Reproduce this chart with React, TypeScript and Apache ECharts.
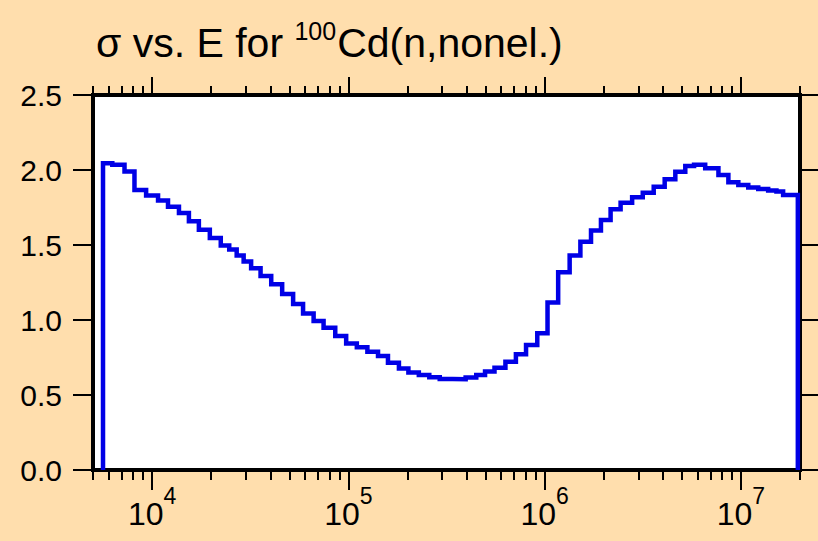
import React, { useEffect, useRef } from 'react';
import * as echarts from 'echarts';

// Bin edges (eV) of the step histogram
const binEdges = [
  5623, 6270, 7236, 8133, 9324, 10725, 12054, 13707, 15403, 17313,
  19688, 22383, 24717, 26979, 29276, 31957, 35700, 40458, 46001, 52312,
  58780, 66527, 74764, 85743, 97455, 110443, 125000, 141616, 159145, 180967,
  202231, 228560, 258430, 292100, 339940, 395800, 448400, 497000, 555300, 631300,
  713800, 804000, 917300, 1034400, 1172000, 1341000, 1521000, 1723000, 1936000, 2168000,
  2438000, 2791000, 3162000, 3595000, 4089000, 4633000, 5207000, 5771000, 6577000, 7682000,
  8632000, 9701000, 10901000, 12253000, 13768000, 15171000, 16406000, 19500000,
];

// Cross section (b) in each bin
const crossSection = [
  2.045, 2.035, 1.99, 1.867, 1.83, 1.797, 1.755, 1.713, 1.658, 1.602,
  1.547, 1.496, 1.47, 1.43, 1.39, 1.345, 1.293, 1.238, 1.173, 1.107,
  1.044, 0.993, 0.949, 0.893, 0.844, 0.818, 0.789, 0.76, 0.715, 0.677,
  0.65, 0.633, 0.618, 0.607, 0.605, 0.617, 0.633, 0.656, 0.682, 0.722,
  0.772, 0.833, 0.911, 1.116, 1.318, 1.43, 1.522, 1.597, 1.667, 1.738,
  1.782, 1.818, 1.849, 1.889, 1.938, 1.989, 2.027, 2.035, 2.011, 1.967,
  1.918, 1.9, 1.884, 1.873, 1.864, 1.856, 1.833,
];

const majorTicks = [1e4, 1e5, 1e6, 1e7];
const minorTicks = [
  5000, 6000, 7000, 8000, 9000,
  20000, 30000, 40000, 50000, 60000, 70000, 80000, 90000,
  200000, 300000, 400000, 500000, 600000, 700000, 800000, 900000,
  2000000, 3000000, 4000000, 5000000, 6000000, 7000000, 8000000, 9000000,
  20000000,
];
const xMin = 5000;
const xMax = 20000000;
const yMin = 0;
const yMax = 2.5;
const yInterval = 0.5;

const titleMain = 'σ vs. E for ';
const titleSup = '100';
const titleRest = 'Cd(n,nonel.)';

const FONT = '"Liberation Sans", Arial, Helvetica, sans-serif';
const BG = '#FFDEAD';
const LINE = '#0000e6';

function buildSteps(): number[][] {
  const pts: number[][] = [[binEdges[0], 0]];
  for (let i = 0; i < crossSection.length; i++) {
    pts.push([binEdges[i], crossSection[i]]);
  }
  const last = binEdges[binEdges.length - 1];
  pts.push([last, crossSection[crossSection.length - 1]]);
  pts.push([last, 0]);
  return pts;
}

const tickStyle = { color: '#000', width: 2 };

function xAxisBase(position: 'top' | 'bottom', ticks: number[], len: number, labels: boolean) {
  return {
    type: 'log',
    logBase: 10,
    min: xMin,
    max: xMax,
    position,
    axisLine: { show: false },
    splitLine: { show: false },
    minorTick: { show: false },
    axisTick: {
      show: true,
      inside: false,
      length: len,
      customValues: ticks,
      lineStyle: tickStyle,
    },
    axisLabel: labels
      ? {
          show: true,
          customValues: majorTicks,
          margin: 14,
          formatter: (v: number) => {
            const e = Math.round(Math.log10(v));
            return '{b|10}{s|' + e + '}';
          },
          rich: {
            b: { fontSize: 32, fontFamily: FONT, color: '#000', verticalAlign: 'bottom', lineHeight: 46 },
            s: { fontSize: 23, fontFamily: FONT, color: '#000', verticalAlign: 'top', lineHeight: 46 },
          },
        }
      : { show: false },
  };
}

export default function App() {
  const ref = useRef<HTMLDivElement>(null);
  useEffect(() => {
    document.body.style.margin = '0';
    if (!ref.current) return;
    const chart = echarts.init(ref.current, null, { renderer: 'svg' });
    chart.setOption({
      animation: false,
      backgroundColor: BG,
      title: {
        text: '{n|' + titleMain + '}{s|' + titleSup + '}{n|' + titleRest + '}',
        left: 96,
        top: 15,
        padding: 0,
        textStyle: {
          fontWeight: 'normal',
          rich: {
            n: { fontSize: 41, fontFamily: FONT, fontWeight: 'normal', color: '#000', verticalAlign: 'bottom', lineHeight: 48 },
            s: { fontSize: 25, fontFamily: FONT, fontWeight: 'normal', color: '#000', verticalAlign: 'top', lineHeight: 48, padding: [3, 1, 0, 0] },
          },
        },
      },
      grid: {
        left: 93,
        right: 18,
        top: 95,
        bottom: 71,
        show: true,
        backgroundColor: '#fff',
        borderColor: '#000',
        borderWidth: 4,
        containLabel: false,
        outerBoundsMode: 'none',
      },
      xAxis: [
        xAxisBase('bottom', majorTicks, 20, true),
        xAxisBase('bottom', minorTicks, 10, false),
        xAxisBase('top', majorTicks, 18, false),
        xAxisBase('top', minorTicks, 9, false),
      ],
      yAxis: [
        {
          type: 'value',
          position: 'left',
          min: yMin,
          max: yMax,
          interval: yInterval,
          axisLine: { show: false },
          splitLine: { show: false },
          axisTick: { show: true, inside: false, length: 20, lineStyle: tickStyle },
          axisLabel: {
            margin: 31,
            fontSize: 30,
            fontFamily: FONT,
            color: '#000',
            formatter: (v: number) => v.toFixed(1),
          },
        },
        {
          type: 'value',
          position: 'right',
          min: yMin,
          max: yMax,
          interval: yInterval,
          axisLine: { show: false },
          splitLine: { show: false },
          axisTick: { show: true, inside: false, length: 18, lineStyle: tickStyle },
          axisLabel: { show: false },
        },
      ],
      series: [
        {
          type: 'line',
          xAxisIndex: 0,
          yAxisIndex: 0,
          step: 'end',
          showSymbol: false,
          symbol: 'none',
          data: buildSteps(),
          lineStyle: { color: LINE, width: 4.5, join: 'miter', cap: 'butt' },
          clip: false,
        },
      ],
    });
    return () => chart.dispose();
  }, []);
  return <div ref={ref} style={{ width: 818, height: 541, background: BG }} />;
}
